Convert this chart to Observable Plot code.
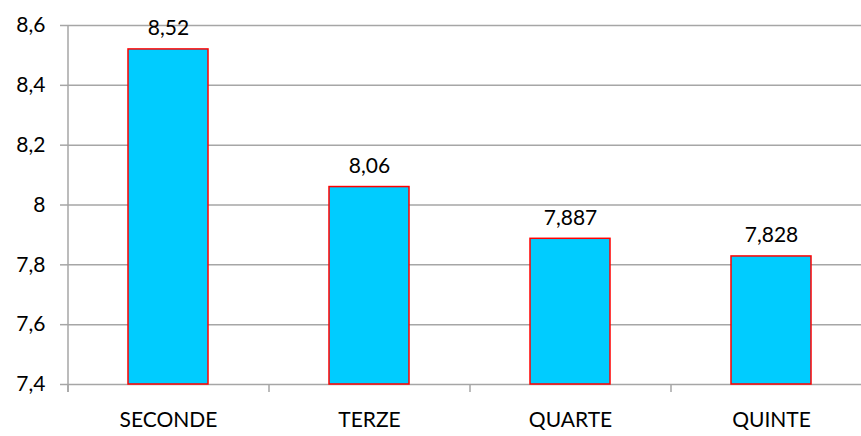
<!DOCTYPE html>
<html>
<head>
<meta charset="utf-8">
<script src="https://cdn.jsdelivr.net/npm/d3@7"></script>
<script src="https://cdn.jsdelivr.net/npm/@observablehq/plot@0.6"></script>
<style>
  html, body { margin: 0; padding: 0; background: #fff; }
  #chart svg { display: block; }
</style>
</head>
<body>
<div id="chart"></div>
<script>
const categories = ["SECONDE", "TERZE", "QUARTE", "QUINTE"];
const values = [8.52, 8.06, 7.887, 7.828];
const yTicks = [7.4, 7.6, 7.8, 8.0, 8.2, 8.4, 8.6];

const data = categories.map((c, i) => ({cat: c, value: values[i]}));
const fmt = v => String(+v.toFixed(3)).replace(".", ",");

const gridColor = "#a6a6a6";
const font = "Lato, 'Open Sans', sans-serif";

const W = 861, H = 436;
const mL = 68, mT = 25, mB = 52;
const xRight = 872;
const step = (xRight - mL) / categories.length;

const chart = Plot.plot({
  width: W,
  height: H,
  marginLeft: mL,
  marginRight: W - xRight,
  marginTop: mT,
  marginBottom: mB,
  style: {fontFamily: font, fontSize: "21px", color: "#000", background: "#fff", overflow: "visible"},
  x: {domain: categories, paddingInner: 0.6, paddingOuter: 0.3, axis: null, label: null},
  y: {domain: [7.4, 8.6], axis: null, label: null},
  marks: [
    Plot.ruleY(yTicks, {stroke: gridColor, strokeWidth: 1.5}),
    Plot.axisY({ticks: yTicks, label: null, tickSize: 8, tickPadding: 15, tickFormat: fmt, stroke: gridColor, strokeWidth: 1.5, strokeOpacity: 1, fontSize: 21, fill: "#000"}),
    Plot.axisX({ticks: categories, label: null, tickSize: 0, tickPadding: 28, fontSize: 21, fill: "#000"}),
    Plot.ruleX([categories[0]], {x: d => d, dx: -step / 2, stroke: gridColor, strokeWidth: 1.5, insetBottom: -8}),
    Plot.ruleX(categories, {x: d => d, dx: -step / 2, stroke: gridColor, strokeWidth: 1.5, insetTop: H - mT - mB, insetBottom: -8}),
    Plot.barY(data, {x: "cat", y1: 7.4, y2: "value", fill: "#00ccff", stroke: "#ff0000", strokeWidth: 1.5}),
    Plot.text(data, {x: "cat", y: "value", text: d => fmt(d.value), lineAnchor: "bottom", dy: -14, fontSize: 21, fill: "#000"})
  ]
});
document.getElementById("chart").appendChild(chart);
</script>
</body>
</html>
